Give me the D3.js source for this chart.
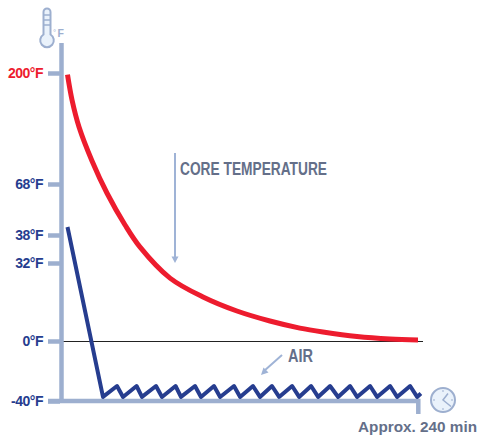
<!DOCTYPE html>
<html>
<head>
<meta charset="utf-8">
<script src="https://cdn.jsdelivr.net/npm/d3@7"></script>
<style>
  html, body { margin: 0; padding: 0; background: #fff; }
  svg { display: block; }
  text { font-family: "Liberation Sans", Arial, sans-serif; font-weight: bold; }
</style>
</head>
<body>
<div class="d3"></div>
<script>
var tempTicks = [-40, 0, 32, 38, 68, 200];
var coreTime = [0, 3.1, 7.9, 16.8, 27, 39.4, 49.7, 70.2, 92.8, 116, 138.6, 159.1, 174.9, 198.2, 220.8, 240];
var coreTemp = [198, 167.9, 135.8, 95.4, 62.7, 43.9, 35.4, 25.8, 18.05, 12.3, 8.2, 5.3, 3.7, 1.85, 0.82, 0.41];
var airTime = [0, 24.3, 33.9, 38, 47.3, 51, 60.6, 64.7, 74, 77.7, 87.3, 91.4, 100.3, 104.5, 114, 118.2, 127, 131.8, 140, 144.9, 153.8, 158.6, 166.8, 171.6, 179.8, 185.3, 193.5, 198.3, 207.2, 212, 220.9, 225.7, 234.6, 239.4, 242];
var airTemp = [42.7, -37.3, -30, -37.3, -30, -37.3, -30, -37.3, -30, -37.3, -30, -37.3, -30, -37.3, -30, -37.3, -30, -37.3, -30, -37.3, -30, -37.3, -30, -37.3, -30, -37.3, -30, -37.3, -30, -37.3, -30, -37.3, -30, -37.3, -35];

var width = 479, height = 437;
var axisColor = "#9dafcf", red = "#ed1c2e", blue = "#263d8f", grey = "#646f89", iconFill = "#eaf2fb";

var svg = d3.select(".d3").append("svg")
    .attr("width", width)
    .attr("height", height);

// the temperature axis is not linear in the original
var x = d3.scaleLinear().domain([0, 240]).range([67.5, 418]);
var y = d3.scaleLinear()
    .domain(tempTicks)
    .range([401, 341, 263, 235, 184, 73]);

// zero line
svg.append("line")
    .attr("x1", 62).attr("x2", 423)
    .attr("y1", y(0) + 0.5).attr("y2", y(0) + 0.5)
    .attr("stroke", "#222").attr("stroke-width", 1);

var yAxis = d3.axisLeft(y)
    .tickValues(tempTicks)
    .tickSize(12)
    .tickPadding(5)
    .tickSizeOuter(0)
    .tickFormat(function(d) { return d + "°F"; });

var gy = svg.append("g")
    .attr("transform", "translate(60,0)")
    .call(yAxis);
gy.select(".domain").remove();
gy.selectAll(".tick line")
    .attr("stroke", axisColor)
    .attr("stroke-width", 4.5);
gy.selectAll(".tick text")
    .attr("font-size", 14)
    .attr("font-family", "Liberation Sans")
    .style("letter-spacing", "-0.5px")
    .attr("fill", function(d) { return d === 200 ? red : blue; });

// axis lines
svg.append("path")
    .attr("d", "M61.5,43V403")
    .attr("fill", "none").attr("stroke", axisColor).attr("stroke-width", 4.5);
svg.append("path")
    .attr("d", "M48,401H418.3V414")
    .attr("fill", "none").attr("stroke", axisColor).attr("stroke-width", 4.5);

// series
var line = d3.line()
    .x(function(d) { return x(d[0]); })
    .y(function(d) { return y(d[1]); });

svg.append("path")
    .datum(d3.zip(coreTime, coreTemp))
    .attr("d", line.curve(d3.curveCatmullRom.alpha(0.5)))
    .attr("fill", "none").attr("stroke", red).attr("stroke-width", 5);

svg.append("path")
    .datum(d3.zip(airTime, airTemp))
    .attr("d", line.curve(d3.curveLinear))
    .attr("fill", "none").attr("stroke", blue).attr("stroke-width", 4)
    .attr("stroke-linejoin", "round");

// labels
svg.append("text").attr("x", 180).attr("y", 175)
    .attr("font-size", 18).attr("fill", grey)
    .attr("textLength", 147).attr("lengthAdjust", "spacingAndGlyphs")
    .text("CORE TEMPERATURE");
svg.append("text").attr("x", 288).attr("y", 362)
    .attr("font-size", 18).attr("fill", grey)
    .attr("textLength", 25).attr("lengthAdjust", "spacingAndGlyphs")
    .text("AIR");
svg.append("text").attr("x", 358).attr("y", 432)
    .attr("font-size", 15.5).attr("fill", grey)
    .attr("textLength", 119).attr("lengthAdjust", "spacingAndGlyphs")
    .text("Approx. 240 min");

// pointers
var arrowColor = "#9fb3d6";
svg.append("line").attr("x1", 175).attr("y1", 153).attr("x2", 175).attr("y2", 259)
    .attr("stroke", arrowColor).attr("stroke-width", 2);
svg.append("path").attr("d", "M171.5,256.5H178.5L175,263Z").attr("fill", arrowColor);
svg.append("line").attr("x1", 282).attr("y1", 355).attr("x2", 264).attr("y2", 371)
    .attr("stroke", arrowColor).attr("stroke-width", 2);
svg.append("path").attr("d", "M261,375L263.5,367.5L268.5,372.5Z").attr("fill", arrowColor);

// thermometer icon
var thermo = svg.append("g").attr("fill", iconFill).attr("stroke", axisColor).attr("stroke-width", 2);
thermo.append("path")
    .attr("d", "M43.5,34.5V12A3.5,3.5 0 0 1 50.5,12V34.5A6.8,6.8 0 1 1 43.5,34.5Z");
thermo.selectAll("line.mark").data([15, 20, 25]).enter().append("line")
    .attr("x1", 43.5).attr("x2", 50.5)
    .attr("y1", function(d) { return d; }).attr("y2", function(d) { return d; })
    .attr("stroke-width", 1.5);
svg.append("text").attr("x", 53).attr("y", 35)
    .attr("font-size", 8).style("font-weight", "normal")
    .attr("fill", axisColor).text("°");
svg.append("text").attr("x", 57.5).attr("y", 37)
    .attr("font-size", 10.5).attr("fill", axisColor).text("F");

// clock icon
var clock = svg.append("g").attr("transform", "translate(443,400)");
clock.append("circle").attr("r", 12)
    .attr("fill", iconFill).attr("stroke", axisColor).attr("stroke-width", 2);
clock.append("path").attr("d", "M5,-6.5L0,0L8,6.5")
    .attr("fill", "none").attr("stroke", axisColor).attr("stroke-width", 1.5);
clock.append("path").attr("d", "M0,-10V-8M0,8V10M-10,0H-8M8,0H10")
    .attr("stroke", axisColor).attr("stroke-width", 1);
</script>
</body>
</html>
